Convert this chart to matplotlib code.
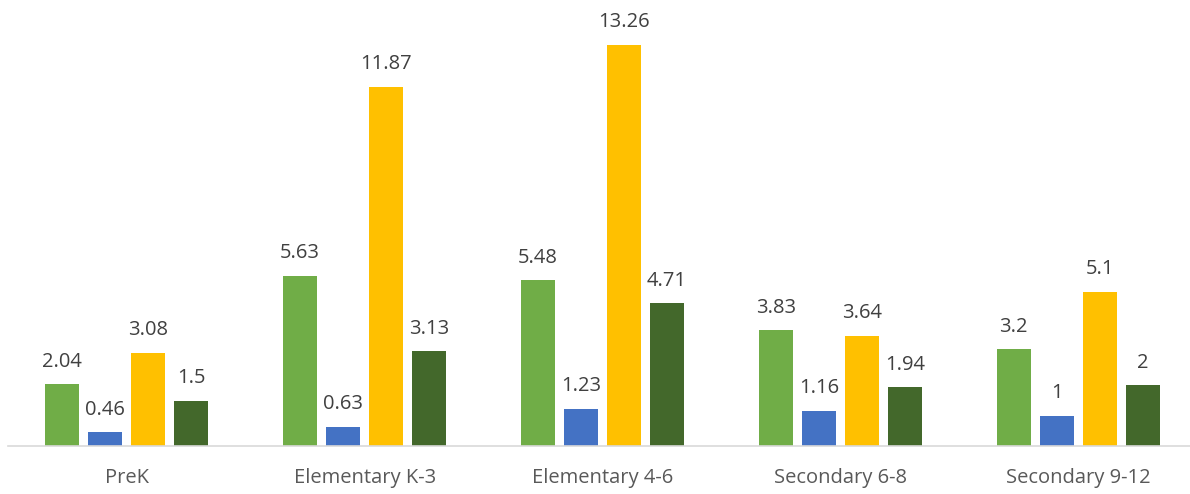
import matplotlib.pyplot as plt
import numpy as np

plt.rcParams['font.family'] = ['Open Sans', 'DejaVu Sans']

grades = ['PreK', 'Elementary K-3', 'Elementary 4-6', 'Secondary 6-8', 'Secondary 9-12']
series_a = [2.04, 5.63, 5.48, 3.83, 3.2]
series_b = [0.46, 0.63, 1.23, 1.16, 1]
series_c = [3.08, 11.87, 13.26, 3.64, 5.1]
series_d = [1.5, 3.13, 4.71, 1.94, 2]

colors = ['#70AD47', '#4472C4', '#FFC000', '#43682B']
all_series = [series_a, series_b, series_c, series_d]

fig = plt.figure(figsize=(11.9, 4.94), dpi=100)
ax = fig.add_axes([0.0067, 0.0972, 0.9992, 0.858])

x = np.arange(len(grades))
width = 0.143
step = 0.181
for i, (vals, col) in enumerate(zip(all_series, colors)):
    pos = x + (i - 1.5) * step
    bars = ax.bar(pos, vals, width, color=col, zorder=2)
    for b, v in zip(bars, vals):
        ax.annotate(f'{v:g}', (b.get_x() + b.get_width() / 2, v),
                    xytext=(0, 9), textcoords='offset points',
                    ha='center', va='bottom', fontsize=14.5, color='#404040')

ax.set_xlim(-0.5, len(grades) - 0.5)
ax.set_ylim(0, 14)
ax.set_xticks(x)
ax.set_xticklabels(grades, fontsize=14.5, color='#595959')
ax.tick_params(axis='x', length=0, pad=16)
ax.set_yticks([])
for s in ['top', 'right', 'left']:
    ax.spines[s].set_visible(False)
ax.spines['bottom'].set_color('#D9D9D9')
ax.spines['bottom'].set_linewidth(1.2)

fig.savefig('out.png', dpi=100)
